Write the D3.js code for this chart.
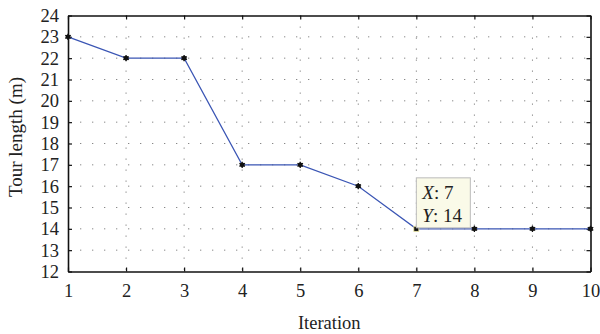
<!DOCTYPE html>
<html>
<head>
<meta charset="utf-8">
<script src="https://cdn.jsdelivr.net/npm/d3@7"></script>
<style>
  body { margin: 0; background: #fff; }
  text { font-family: "Liberation Serif", "DejaVu Serif", serif; fill: #222; }
</style>
</head>
<body>
<div id="chart-area"></div>
<script>
// values
const iterations = [1, 2, 3, 4, 5, 6, 7, 8, 9, 10];
const tourLength = [23, 22, 22, 17, 17, 16, 14, 14, 14, 14];
const xTicks = [1, 2, 3, 4, 5, 6, 7, 8, 9, 10];
const yTicks = [12, 13, 14, 15, 16, 17, 18, 19, 20, 21, 22, 23, 24];
const tipIndex = 6;

const W = 600, H = 334;
const margin = { left: 68, right: 9.5, top: 15.5, bottom: 62.5 };

const svg = d3.select("#chart-area")
    .append("svg")
        .attr("width", W)
        .attr("height", H);

const x = d3.scaleLinear().domain([1, 10]).range([margin.left, W - margin.right]);
const y = d3.scaleLinear().domain([12, 24]).range([H - margin.bottom, margin.top]);

const x0 = x.range()[0], x1 = x.range()[1];
const y0 = y.range()[0], y1 = y.range()[1];

// dotted grid
svg.append("g").selectAll("line.gx")
    .data(xTicks.slice(1, -1))
    .enter().append("line")
        .attr("x1", d => x(d)).attr("x2", d => x(d))
        .attr("y1", y1).attr("y2", y0)
        .attr("stroke", "#888").attr("stroke-width", 1)
        .attr("stroke-dasharray", "1.3,9.7");

svg.append("g").selectAll("line.gy")
    .data(yTicks.slice(1, -1))
    .enter().append("line")
        .attr("x1", x0).attr("x2", x1)
        .attr("y1", d => y(d)).attr("y2", d => y(d))
        .attr("stroke", "#888").attr("stroke-width", 1)
        .attr("stroke-dasharray", "1.3,10.7");

// axes, ticks pointing inward
const xAxis = d3.axisBottom(x).tickValues(xTicks).tickSizeInner(-4).tickSizeOuter(0).tickPadding(12);
const yAxis = d3.axisLeft(y).tickValues(yTicks).tickSizeInner(-4).tickSizeOuter(0).tickPadding(9);

svg.append("g").attr("transform", `translate(0,${y0})`).call(xAxis);
svg.append("g").attr("transform", `translate(${x0},0)`).call(yAxis);

svg.append("g").attr("transform", `translate(0,${y1})`)
    .call(d3.axisTop(x).tickValues(xTicks).tickSizeInner(-4).tickSizeOuter(0).tickFormat(""));
svg.append("g").attr("transform", `translate(${x1},0)`)
    .call(d3.axisRight(y).tickValues(yTicks).tickSizeInner(-4).tickSizeOuter(0).tickFormat(""));

svg.selectAll(".domain").attr("stroke", "#111").attr("stroke-width", 1.6);
svg.selectAll(".tick line").attr("stroke", "#111").attr("stroke-width", 1.2);
svg.selectAll(".tick text")
    .attr("font-size", 18.5)
    .attr("font-family", "Liberation Serif, DejaVu Serif, serif")
    .attr("fill", "#222");

// axis titles
svg.append("text")
    .attr("x", (x0 + x1) / 2)
    .attr("y", 329)
    .attr("text-anchor", "middle")
    .attr("font-size", 18.5)
    .text("Iteration");

svg.append("text")
    .attr("transform", "translate(22,137) rotate(-90)")
    .attr("text-anchor", "middle")
    .attr("font-size", 19)
    .text("Tour length (m)");

// series
const line = d3.line()
    .x((d, i) => x(iterations[i]))
    .y(d => y(d));

svg.append("path")
    .datum(tourLength)
    .attr("d", line)
    .attr("fill", "none")
    .attr("stroke", "#3a55b4")
    .attr("stroke-width", 1.2);

const star = d3.symbol().type(d3.symbolAsterisk).size(28);

svg.append("g").selectAll("g.pt")
    .data(tourLength)
    .enter().append("g")
        .attr("transform", (d, i) => `translate(${x(iterations[i])},${y(d)})`)
        .each(function (d, i) {
            const g = d3.select(this);
            if (i === tipIndex) {
                g.append("rect")
                    .attr("x", -2.5).attr("y", -2.5)
                    .attr("width", 5).attr("height", 5)
                    .attr("fill", "#111")
                    .attr("stroke", "#eee8a0").attr("stroke-width", 0.8);
            } else {
                g.append("circle").attr("r", 2.4).attr("fill", "#111");
                g.append("path").attr("d", star()).attr("stroke", "#111").attr("stroke-width", 1.3);
            }
        });

// data tip
const tx = x(iterations[tipIndex]), ty = y(tourLength[tipIndex]);
const tip = svg.append("g").attr("transform", `translate(${tx},${ty - 1})`);
tip.append("rect")
    .attr("x", 0).attr("y", -50)
    .attr("width", 54).attr("height", 50)
    .attr("fill", "#fafae8")
    .attr("stroke", "#bbb").attr("stroke-width", 1);

const t1 = tip.append("text").attr("x", 6).attr("y", -29).attr("font-size", 19);
t1.append("tspan").attr("font-style", "italic").text("X");
t1.append("tspan").text(": " + iterations[tipIndex]);
const t2 = tip.append("text").attr("x", 6).attr("y", -6).attr("font-size", 19);
t2.append("tspan").attr("font-style", "italic").text("Y");
t2.append("tspan").text(": " + tourLength[tipIndex]);
</script>
</body>
</html>
